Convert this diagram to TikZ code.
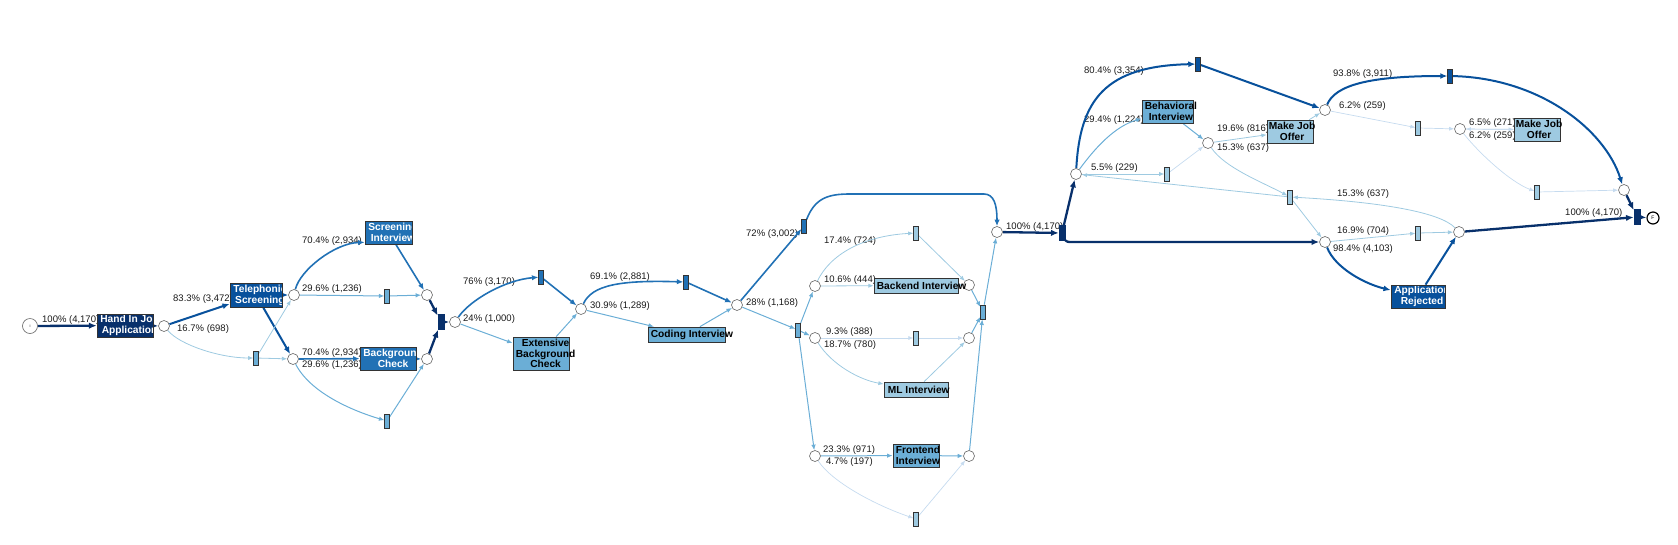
\documentclass[tikz,border=0pt]{standalone}
\usepackage{fontspec}
\setmainfont{Liberation Sans}
\usetikzlibrary{arrows.meta}
\definecolor{cA}{HTML}{08306B}
\definecolor{cB}{HTML}{08519C}
\definecolor{cC}{HTML}{2171B5}
\definecolor{cD}{HTML}{6BAED6}
\definecolor{cE}{HTML}{9ECAE1}
\definecolor{cF}{HTML}{C6DBEF}
\definecolor{bord}{HTML}{333333}
\definecolor{plc}{HTML}{666666}
\definecolor{lbl}{HTML}{1A1A1A}
\pgfdeclarelayer{bg}
\pgfsetlayers{bg,main}
\begin{document}
\begin{tikzpicture}[x=1pt,y=-1pt,
  place/.style={circle, draw=plc, line width=0.6pt, fill=white, minimum size=11pt, inner sep=0pt},
  sil/.style={rectangle, draw=bord, line width=0.6pt, minimum width=4.5pt, minimum height=14pt, inner sep=0pt},
  andt/.style={rectangle, draw=cA, fill=cA, line width=0.6pt, minimum width=6pt, minimum height=15pt, inner sep=0pt},
  act/.style={rectangle, draw=bord, line width=0.7pt, inner sep=0pt},
  btxt/.style={font=\fontsize{10.2}{10.8}\selectfont\bfseries, align=center, inner sep=0pt, anchor=west},
  lab/.style={font=\fontsize{9.5}{11}\selectfont, text=lbl, inner sep=0pt, anchor=west},
  edg/.style={-{Latex[length=4pt 1.6, width=3pt 1.5]}},
  eA/.style={edg, draw=cA, line width=2.3pt},
  eB/.style={edg, draw=cB, line width=2pt},
  eC/.style={edg, draw=cC, line width=1.6pt},
  eD/.style={edg, draw=cD, line width=1pt},
  eE/.style={edg, draw=cE, line width=0.8pt},
  eF/.style={edg, draw=cF, line width=0.7pt}]
\useasboundingbox (0,0) rectangle (1678,544);

% ---------- places ----------
\node[place, minimum size=15pt] (S) at (30,326) {\fontsize{3.5}{3.5}\selectfont I};
\node[place] (p1) at (164,326) {};
\node[place] (p2) at (294,295) {};
\node[place] (p3) at (293,359) {};
\node[place] (p4) at (427,295) {};
\node[place] (p5) at (427,359) {};
\node[place] (p6) at (455,322) {};
\node[place] (p7) at (581,309) {};
\node[place] (p8) at (737,305) {};
\node[place] (p9) at (997,232) {};
\node[place] (p10) at (815,286) {};
\node[place] (p11) at (815,338) {};
\node[place] (p12) at (969,285) {};
\node[place] (p13) at (969,338) {};
\node[place] (p14) at (815,456) {};
\node[place] (p15) at (969,456) {};
\node[place] (p16) at (1076,174) {};
\node[place] (p17) at (1325,110) {};
\node[place] (p18) at (1208,143) {};
\node[place] (p19) at (1325,242) {};
\node[place] (p20) at (1460,129) {};
\node[place] (p21) at (1459,232) {};
\node[place] (p22) at (1624,190) {};
\node[place, draw=black, line width=1.2pt, minimum size=12pt] (E) at (1653,218) {\fontsize{5}{5}\selectfont F};

% ---------- silent transitions ----------
\node[sil, fill=cD] (t1) at (256,358) {};
\node[sil, fill=cD] (t2) at (387,296) {};
\node[sil, fill=cD] (t3) at (387,421) {};
\node[sil, fill=cC] (t4) at (541,277) {};
\node[sil, fill=cC] (t5) at (686,282) {};
\node[sil, fill=cD] (t6) at (798,330) {};
\node[sil, fill=cC] (t7) at (804,226) {};
\node[sil, fill=cE] (t8) at (916,233) {};
\node[sil, fill=cE] (t9) at (916,338) {};
\node[sil, fill=cD] (t10) at (983,312) {};
\node[sil, fill=cE] (t11) at (916,519) {};
\node[sil, fill=cB] (t14) at (1198,64) {};
\node[sil, fill=cE] (t15) at (1167,174) {};
\node[sil, fill=cE] (t16) at (1290,197) {};
\node[sil, fill=cE] (t17) at (1418,233) {};
\node[sil, fill=cB] (t19) at (1450,76) {};
\node[sil, fill=cE] (t20) at (1418,128) {};
\node[sil, fill=cE] (t21) at (1537,192) {};
\node[andt] (J1) at (441,322) {};
\node[andt] (t13) at (1062,233) {};
\node[andt] (t18) at (1637,217) {};

% ---------- activities (white text, clipped) ----------
\node[act, fill=cA, minimum width=56pt, minimum height=23pt,
  path picture={\node[btxt, text=white] (Ht) at ([xshift=3pt]path picture bounding box.west) {Hand In Job\\Application};}] (H) at (125,325.5) {};
\node[act, fill=cB, minimum width=52pt, minimum height=24pt,
  path picture={\node[btxt, text=white] (Tt) at ([xshift=3pt]path picture bounding box.west) {Telephonic\\Screening};}] (T) at (256,295) {};
\node[act, fill=cC, minimum width=47pt, minimum height=23pt,
  path picture={\node[btxt, text=white] (SIt) at ([xshift=3pt]path picture bounding box.west) {Screening\\Interview};}] (SI) at (388.5,232.5) {};
\node[act, fill=cC, minimum width=56pt, minimum height=23pt,
  path picture={\node[btxt, text=white] (BCt) at ([xshift=3pt]path picture bounding box.west) {Background\\Check};}] (BC) at (388,358.5) {};
\node[act, fill=cB, minimum width=54pt, minimum height=23pt,
  path picture={\node[btxt, text=white] (ARt) at ([xshift=3pt]path picture bounding box.west) {Application\\Rejected};}] (AR) at (1418,296.5) {};

% ---------- activities (black text) ----------
\node[act, fill=cD, minimum width=56pt, minimum height=33pt] (EBC) at (541,353.5) {};
\node[act, fill=cD, minimum width=77pt, minimum height=15pt] (Cod) at (686.5,334.5) {};
\node[act, fill=cE, minimum width=84pt, minimum height=15pt] (Be) at (916,285.5) {};
\node[act, fill=cE, minimum width=64pt, minimum height=15pt] (ML) at (916,389.5) {};
\node[act, fill=cD, minimum width=46pt, minimum height=23pt] (Fr) at (916,455.5) {};
\node[act, fill=cD, minimum width=51pt, minimum height=23pt] (Bh) at (1167.5,111.5) {};
\node[act, fill=cE, minimum width=46pt, minimum height=23pt] (MJ) at (1290,131.5) {};
\node[act, fill=cE, minimum width=46pt, minimum height=23pt] (MJ2) at (1537,129.5) {};
\node[btxt] (EBCt) at ([xshift=3pt]EBC.west) {Extensive\\Background\\Check};
\node[btxt] (Codt) at ([xshift=3pt]Cod.west) {Coding Interview};
\node[btxt] (Bet) at ([xshift=3pt]Be.west) {Backend Interview};
\node[btxt] (MLt) at ([xshift=4pt]ML.west) {ML Interview};
\node[btxt] (Frt) at ([xshift=3pt]Fr.west) {Frontend\\Interview};
\node[btxt] (Bht) at ([xshift=3pt]Bh.west) {Behavioral\\Interview};
\node[btxt] (MJt) at ([xshift=2pt]MJ.west) {Make Job\\Offer};
\node[btxt] (MJ2t) at ([xshift=2pt]MJ2.west) {Make Job\\Offer};

\begin{pgfonlayer}{bg}
% ---------- labels ----------
\node[lab] (L1) at (42,320) {100\% (4,170)};
\node[lab] (L2) at (173,299) {83.3\% (3,472)};
\node[lab] (L3) at (177,329) {16.7\% (698)};
\node[lab] (L4) at (302,241) {70.4\% (2,934)};
\node[lab] (L5) at (302,289) {29.6\% (1,236)};
\node[lab] (L6) at (302,353) {70.4\% (2,934)};
\node[lab] (L7) at (302,365) {29.6\% (1,236)};
\node[lab] (L8) at (463,282) {76\% (3,170)};
\node[lab] (L9) at (463,319) {24\% (1,000)};
\node[lab] (L10) at (590,277) {69.1\% (2,881)};
\node[lab] (L11) at (590,306) {30.9\% (1,289)};
\node[lab] (L12) at (746,303) {28\% (1,168)};
\node[lab] (L13) at (746,234) {72\% (3,002)};
\node[lab] (L14) at (824,241) {17.4\% (724)};
\node[lab] (L15) at (824,280) {10.6\% (444)};
\node[lab] (L16) at (826,332) {9.3\% (388)};
\node[lab] (L17) at (824,345) {18.7\% (780)};
\node[lab] (L18) at (823,450) {23.3\% (971)};
\node[lab] (L19) at (826,462) {4.7\% (197)};
\node[lab] (L20) at (1006,227) {100\% (4,170)};
\node[lab] (L21) at (1084,71) {80.4\% (3,354)};
\node[lab] (L22) at (1084,120) {29.4\% (1,224)};
\node[lab] (L23) at (1091,168) {5.5\% (229)};
\node[lab] (L24) at (1217,129) {19.6\% (816)};
\node[lab] (L25) at (1217,148) {15.3\% (637)};
\node[lab] (L26) at (1333,74) {93.8\% (3,911)};
\node[lab] (L27) at (1339,106) {6.2\% (259)};
\node[lab] (L28) at (1337,194) {15.3\% (637)};
\node[lab] (L29) at (1337,231) {16.9\% (704)};
\node[lab] (L30) at (1333,249) {98.4\% (4,103)};
\node[lab] (L31) at (1469,123) {6.5\% (271)};
\node[lab] (L32) at (1469,136) {6.2\% (259)};
\node[lab] (L33) at (1565,213) {100\% (4,170)};

% ---------- edges ----------
\draw[eA] (S) -- (H);
\draw[eA] (H) -- (p1);
\draw[eB] (p1) -- (T);
\draw[eE] (p1) .. controls (180,345) and (220,358) .. (t1);
\draw[eB] (T) -- (p2);
\draw[eB] (T) -- (p3);
\draw[eE] (t1) -- (p2);
\draw[eE] (t1) -- (p3);
\draw[eC] (p2) .. controls (300,270) and (335,243) .. ([yshift=2pt]SI.south west);
\draw[eD] (p2) -- (t2);
\draw[eD] (t2) -- (p4);
\draw[eC] (p3) -- (BC);
\draw[eD] (p3) .. controls (310,392) and (350,410) .. (t3);
\draw[eC] (SI) -- (p4);
\draw[eC] (BC) -- (p5);
\draw[eD] (t3) -- (p5);
\draw[eA] (p4) -- (J1);
\draw[eA] (p5) -- (J1);
\draw[eA] (J1) -- (p6);
\draw[eC] (p6) .. controls (470,300) and (505,280) .. (t4);
\draw[eD] (p6) -- (EBC);
\draw[eC] (t4) -- (p7);
\draw[eD] (EBC) -- (p7);
\draw[eC] (p7) .. controls (592,285) and (620,280) .. (t5);
\draw[eD] (p7) -- (Cod);
\draw[eC] (t5) -- (p8);
\draw[eD] (Cod) -- (p8);
\draw[eC] (p8) -- (t7);
\draw[eC] (t7) .. controls (815,198) and (828,194) .. (850,194) -- (984,194) .. controls (994,194) and (997,205) .. (p9);
\draw[eD] (p8) -- (t6);
\draw[eD] (t6) -- (p10);
\draw[eD] (t6) -- (p11);
\draw[eD] (t6) -- (p14);
\draw[eE] (p10) .. controls (830,255) and (862,236) .. (t8);
\draw[eE] (p10) -- (Be);
\draw[eE] (t8) -- (p12);
\draw[eE] (Be) -- (p12);
\draw[eF] (p11) -- (t9);
\draw[eF] (t9) -- (p13);
\draw[eE] (p11) .. controls (832,365) and (860,380) .. (ML);
\draw[eE] (ML) -- (p13);
\draw[eD] (p14) -- (Fr);
\draw[eD] (Fr) -- (p15);
\draw[eF] (p14) .. controls (832,482) and (875,505) .. (t11);
\draw[eF] (t11) -- (p15);
\draw[eD] (p12) -- (t10);
\draw[eD] (p13) -- (t10);
\draw[eD] (p15) -- (t10);
\draw[eD] (t10) -- (p9);
\draw[eA] (p9) -- (t13);
\draw[eA] (t13) -- (p16);
\draw[eA] (t13) .. controls (1066,242) .. (1080,242) -- (p19);
\draw[eB] (p16) .. controls (1080,100) and (1105,66) .. (t14);
\draw[eB] (t14) -- (p17);
\draw[eD] (p16) .. controls (1095,148) and (1115,126) .. (Bh);
\draw[eD] (Bh) -- (p18);
\draw[eE] (p16) -- (t15);
\draw[eF] (t15) -- (p18);
\draw[eE] (p18) -- (MJ);
\draw[eE] (MJ) -- (p17);
\draw[eE] (p18) .. controls (1225,168) and (1262,182) .. (t16);
\draw[eE] (t16) -- (p16);
\draw[eE] (p21) .. controls (1440,212) and (1380,202) .. (t16);
\draw[eE] (t16) -- (p19);
\draw[eB] (p17) .. controls (1335,85) and (1370,76) .. (t19);
\draw[eB] (t19) .. controls (1540,78) and (1605,130) .. (p22);
\draw[eF] (p17) -- (t20);
\draw[eF] (t20) -- (p20);
\draw[eF] (p20) -- (MJ2);
\draw[eF] (MJ2) -- (p20);
\draw[eF] (p20) .. controls (1478,152) and (1510,182) .. (t21);
\draw[eF] (t21) -- (p22);
\draw[eA] (p22) -- (t18);
\draw[eE] (p19) -- (t17);
\draw[eE] (t17) -- (p21);
\draw[eB] (p19) .. controls (1335,268) and (1365,284) .. (AR);
\draw[eB] (AR) -- (p21);
\draw[eA] (p21) -- (t18);
\draw[eA] (t18) -- (E);
\end{pgfonlayer}
\end{tikzpicture}
\end{document}
